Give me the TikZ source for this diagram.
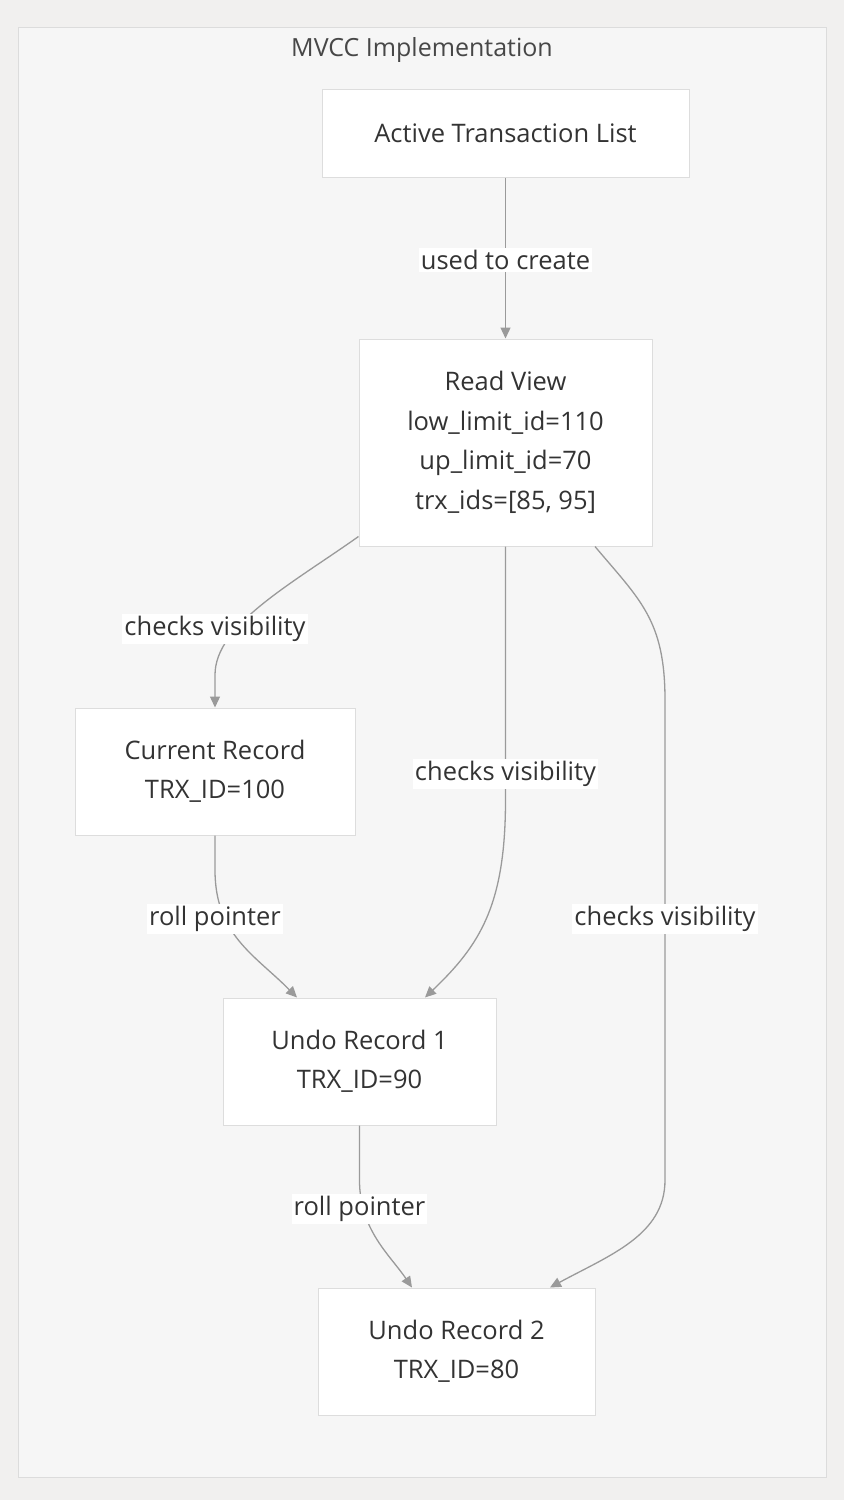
\documentclass[tikz,border=0pt]{standalone}
\usepackage{fontspec}
\setmainfont{Open Sans}
\usetikzlibrary{arrows.meta}
\definecolor{pagebg}{HTML}{F1F0EF}
\definecolor{clusterbg}{HTML}{F6F6F6}
\definecolor{clusterline}{HTML}{DCDCDC}
\definecolor{boxline}{HTML}{DDDDDD}
\definecolor{edgecol}{HTML}{9A9A9A}
\definecolor{txt}{HTML}{333333}
\tikzset{
  box/.style={draw=boxline, line width=1pt, fill=white, text=txt, align=center,
    font=\fontsize{25.5}{39.5}\selectfont, inner sep=0pt},
  edge/.style={draw=edgecol, line width=1.3pt, -{Triangle[length=11pt,width=10pt]}},
  elabel/.style={fill=white, text=txt, font=\fontsize{25.5}{30}\selectfont, inner sep=2pt},
}
\begin{document}
\begin{tikzpicture}[x=1pt,y=-1pt]
\useasboundingbox (0,0) rectangle (844,1500);
\fill[pagebg] (0,0) rectangle (844,1500);
\draw[clusterline, fill=clusterbg, line width=1pt] (18,27) rectangle (826,1477);
\node[text=txt!90, font=\fontsize{25}{30}\selectfont] (title) at (422,50) {MVCC Implementation};

\node[box, minimum width=367pt, minimum height=88pt] (atl) at (505.5,133) {Active Transaction List};
\node[box, minimum width=293pt, minimum height=207pt] (rv) at (505.5,442.5) {Read View\\low\_limit\_id=110\\up\_limit\_id=70\\trx\_ids=[85, 95]};
\node[box, minimum width=280pt, minimum height=127pt] (cr) at (215,771.5) {Current Record\\TRX\_ID=100};
\node[box, minimum width=273pt, minimum height=127pt] (ur1) at (359.5,1061.5) {Undo Record 1\\TRX\_ID=90};
\node[box, minimum width=277pt, minimum height=127pt] (ur2) at (456.5,1351.5) {Undo Record 2\\TRX\_ID=80};

% edges
\draw[edge] (atl.south) -- (rv.north);
\draw[edge] ([yshift=10pt]rv.south west) .. controls (290,585) and (215,625) .. (215,675) -- (cr.north);
\draw[edge] (rv.south) -- (505.5,800) .. controls (505.5,905) and (480,945) .. ([xshift=65.5pt]ur1.north);
\draw[edge] ([xshift=89.5pt]rv.south) .. controls (640,600) and (665,620) .. (665,700) -- (665,1180) .. controls (665,1235) and (610,1255) .. ([xshift=93.5pt]ur2.north);
\draw[edge] (cr.south) -- (215,870) .. controls (215,935) and (255,955) .. ([xshift=-62.5pt]ur1.north);
\draw[edge] (ur1.south) -- (359.5,1180) .. controls (359.5,1230) and (390,1255) .. ([xshift=-44.5pt]ur2.north);

% labels
\node[elabel] (l1) at (505.5,260) {used to create};
\node[elabel] (l2) at (215,629) {checks visibility};
\node[elabel] (l3) at (505.5,774) {checks visibility};
\node[elabel] (l4) at (665,919) {checks visibility};
\node[elabel] (l5) at (215,919) {roll pointer};
\node[elabel] (l6) at (359.5,1209) {roll pointer};
\end{tikzpicture}
\end{document}
